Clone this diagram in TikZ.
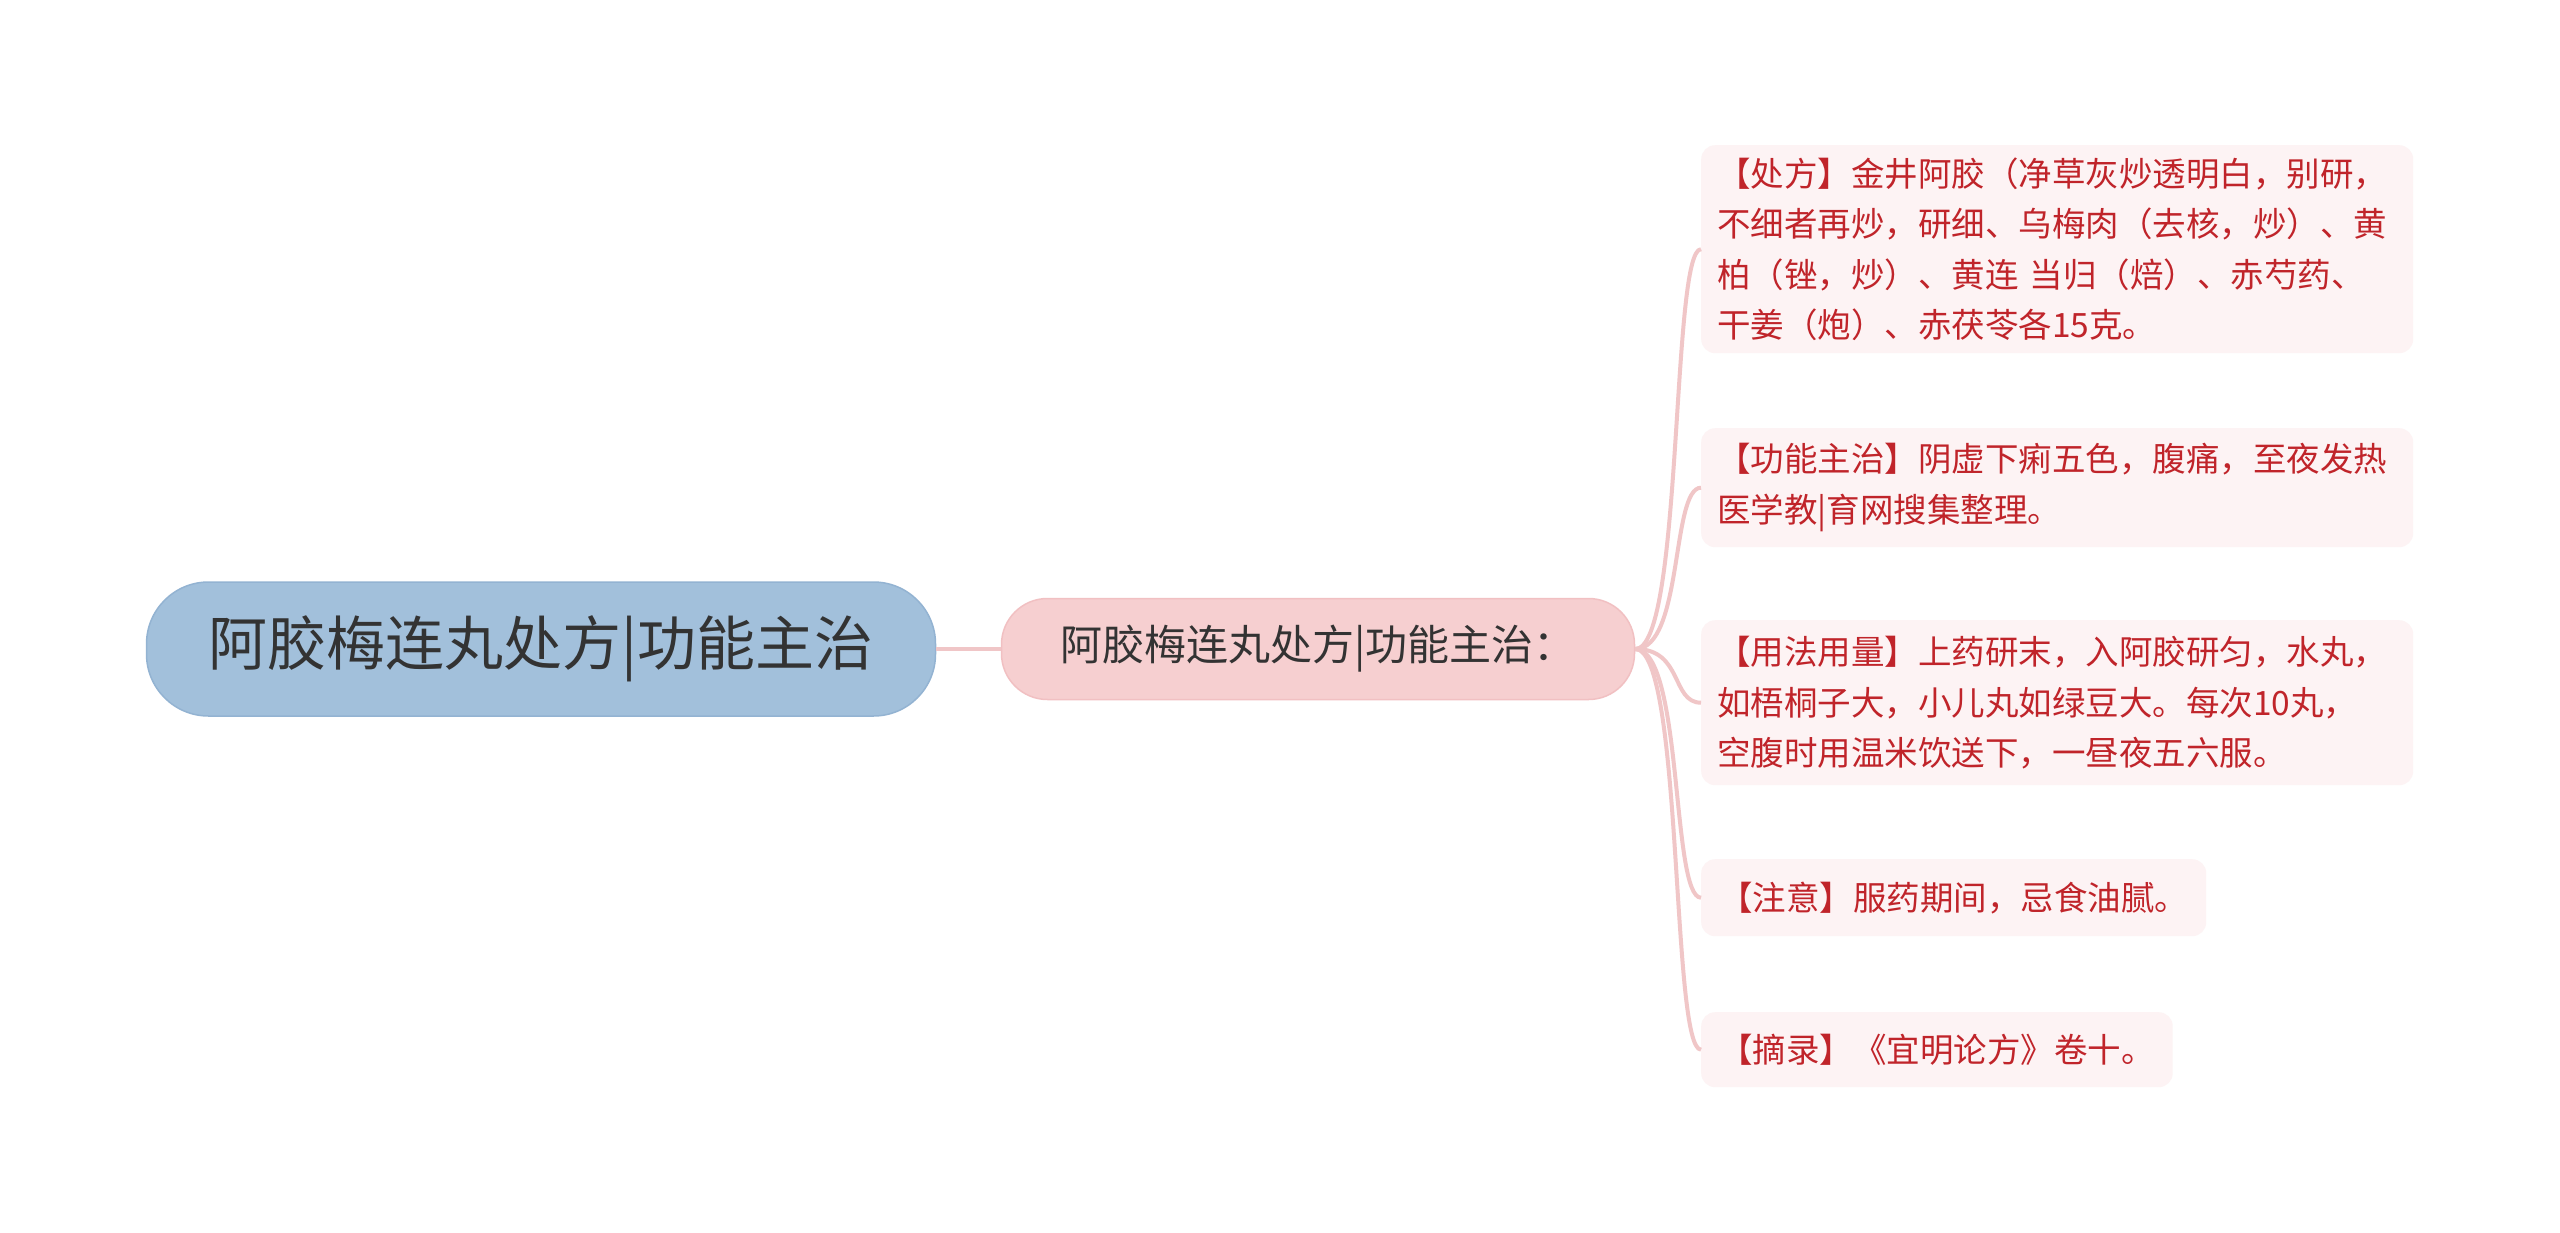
\documentclass[tikz,border=0pt]{standalone}
\usepackage{fontspec}
\setmainfont{Noto Sans CJK SC}
\definecolor{rootfill}{HTML}{A2C0DB}
\definecolor{rootdraw}{HTML}{93B3D2}
\definecolor{midfill}{HTML}{F6CFD0}
\definecolor{middraw}{HTML}{F1C0C2}
\definecolor{leaffill}{HTML}{FDF3F4}
\definecolor{leafred}{HTML}{C0242A}
\definecolor{conncol}{HTML}{F0C6C7}
\definecolor{darktext}{HTML}{333333}
\tikzset{
  rootbox/.style={draw=rootdraw, line width=1.5pt, fill=rootfill, rounded corners=62pt,
    minimum width=789pt, minimum height=134pt, inner sep=0pt, text=darktext,
    font=\fontsize{59}{66}\selectfont},
  midbox/.style={draw=middraw, line width=1.5pt, fill=midfill, rounded corners=46pt,
    minimum width=633pt, minimum height=101pt, inner sep=0pt, text=darktext,
    font=\fontsize{42}{48}\selectfont},
  leafbox/.style={fill=leaffill, rounded corners=14pt, inner xsep=18pt, inner ysep=0pt,
    text=leafred, font=\fontsize{33.5}{50.5}\selectfont, anchor=north west},
  leafwide/.style={leafbox, text width=680pt, align=left, minimum width=712pt, inner xsep=16pt},
  conn/.style={draw=conncol, line width=4pt},
}
\begin{document}
\begin{tikzpicture}[x=1pt,y=-1pt]
\useasboundingbox[fill=white] (0,0) rectangle (2560,1232);
\node[rootbox] (root) at (541,649) {阿胶梅连丸处方|功能主治};
\node[midbox] (mid) at (1318,649) {阿胶梅连丸处方|功能主治：};
\node[leafwide, minimum height=208pt] (l1) at (1701,145) {【处方】金井阿胶（净草灰炒透明白，别研，\\不细者再炒，研细、乌梅肉（去核，炒）、黄\\柏（锉，炒）、黄连 当归（焙）、赤芍药、\\干姜（炮）、赤茯苓各15克。};
\node[leafwide, minimum height=119pt] (l2) at (1701,428) {【功能主治】阴虚下痢五色，腹痛，至夜发热\\医学教|育网搜集整理。};
\node[leafwide, minimum height=165pt] (l3) at (1701,620) {【用法用量】上药研末，入阿胶研匀，水丸，\\如梧桐子大，小儿丸如绿豆大。每次10丸，\\空腹时用温米饮送下，一昼夜五六服。};
\node[leafbox, minimum height=77pt] (l4) at (1701,859) {【注意】服药期间，忌食油腻。};
\node[leafbox, minimum height=75pt] (l5) at (1701,1012) {【摘录】《宜明论方》卷十。};
\draw[conn] (root.east) -- (mid.west);
\foreach \l in {l1,l2,l3,l4,l5}{
  \draw[conn] (mid.east) .. controls +(48,0) and +(-30,0) .. (\l.west);
}
\end{tikzpicture}
\end{document}
